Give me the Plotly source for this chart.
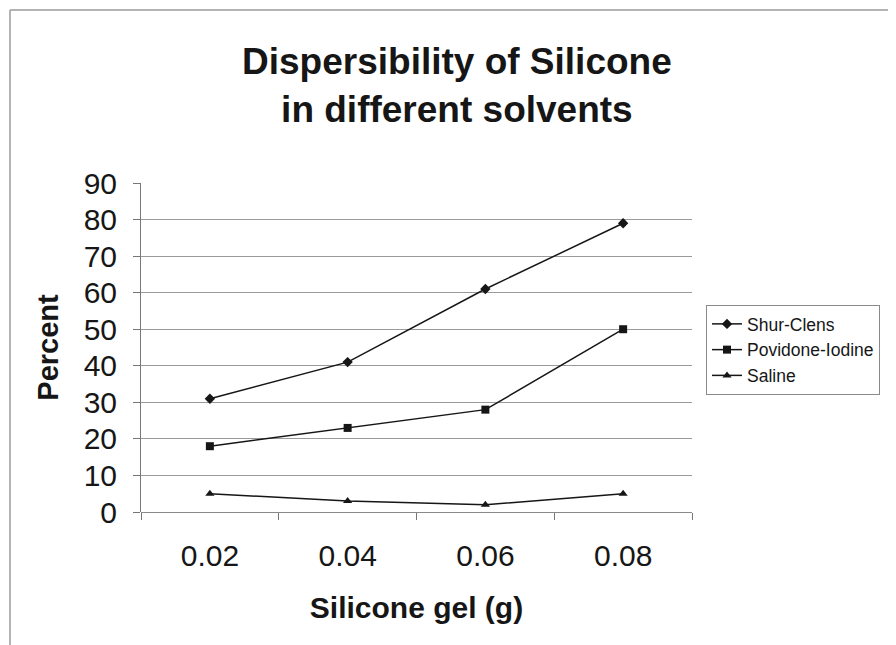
import plotly.graph_objects as go

categories = ["0.02", "0.04", "0.06", "0.08"]
shur_clens = [31, 41, 61, 79]
povidone_iodine = [18, 23, 28, 50]
saline = [5, 3, 2, 5]
y_ticks = [0, 10, 20, 30, 40, 50, 60, 70, 80, 90]

FONT = "Liberation Sans, Arial, sans-serif"
INK = "#161616"

fig = go.Figure()
series = [
    ("Shur-Clens", shur_clens, "diamond", 8),
    ("Povidone-Iodine", povidone_iodine, "square", 8),
    ("Saline", saline, "triangle-up", 8),
]
for name, vals, sym, sz in series:
    fig.add_trace(go.Scatter(
        x=categories, y=vals, name=name, mode="lines+markers",
        line=dict(color=INK, width=1.5),
        marker=dict(symbol=sym, size=sz, color=INK),
    ))

L, R, T, B = 133, 212, 175, 141
W, H = 896, 645
pw, ph = W - L - R, H - T - B

def px_to_paper_x(x):
    return (x - L) / pw

def px_to_paper_y(y):
    return 1 - (y - T) / ph

frame = dict(color="#9a9a9a", width=1.5)
fig.update_layout(
    width=W, height=H,
    paper_bgcolor="white", plot_bgcolor="white",
    margin=dict(l=L, r=R, t=T, b=B),
    title=dict(
        text="<b>Dispersibility of Silicone<br>in different solvents</b>",
        x=0.501, xanchor="center", y=0.898, yanchor="top",
        font=dict(family=FONT, size=37, color=INK),
    ),
    font=dict(family=FONT, color=INK),
    showlegend=True,
    legend=dict(
        x=px_to_paper_x(698), y=px_to_paper_y(297), xanchor="left", yanchor="top",
        font=dict(family=FONT, size=17.5, color=INK),
        bordercolor="#8a8a8a", borderwidth=1,
        bgcolor="white", tracegroupgap=0,
    ),
    shapes=[
        dict(type="line", xref="paper", yref="paper",
             x0=px_to_paper_x(2), x1=px_to_paper_x(900),
             y0=px_to_paper_y(2), y1=px_to_paper_y(2), line=frame),
        dict(type="line", xref="paper", yref="paper",
             x0=px_to_paper_x(2), x1=px_to_paper_x(2),
             y0=px_to_paper_y(2), y1=px_to_paper_y(650), line=frame),
    ],
)
fig.update_xaxes(
    type="category", range=[-0.5, 3.5],
    tickson="boundaries", ticks="outside", ticklen=7, tickcolor="#777777",
    ticklabelstandoff=23,
    showgrid=False, showline=False, zeroline=False,
    tickfont=dict(family=FONT, size=30, color=INK),
    title=dict(text="<b>Silicone gel (g)</b>", standoff=25,
               font=dict(family=FONT, size=30, color=INK)),
)
fig.update_yaxes(
    range=[0, 90], tickvals=y_ticks, ticks="outside", ticklen=7,
    tickcolor="#777777", ticklabelstandoff=10,
    showgrid=True, gridcolor="#9a9a9a", gridwidth=1,
    showline=True, linecolor="#777777", linewidth=1,
    zeroline=True, zerolinecolor="#8a8a8a", zerolinewidth=1,
    tickfont=dict(family=FONT, size=30, color=INK),
    title=dict(text="<b>Percent</b>", standoff=16,
               font=dict(family=FONT, size=29, color=INK)),
)

fig.write_html("out.html")
